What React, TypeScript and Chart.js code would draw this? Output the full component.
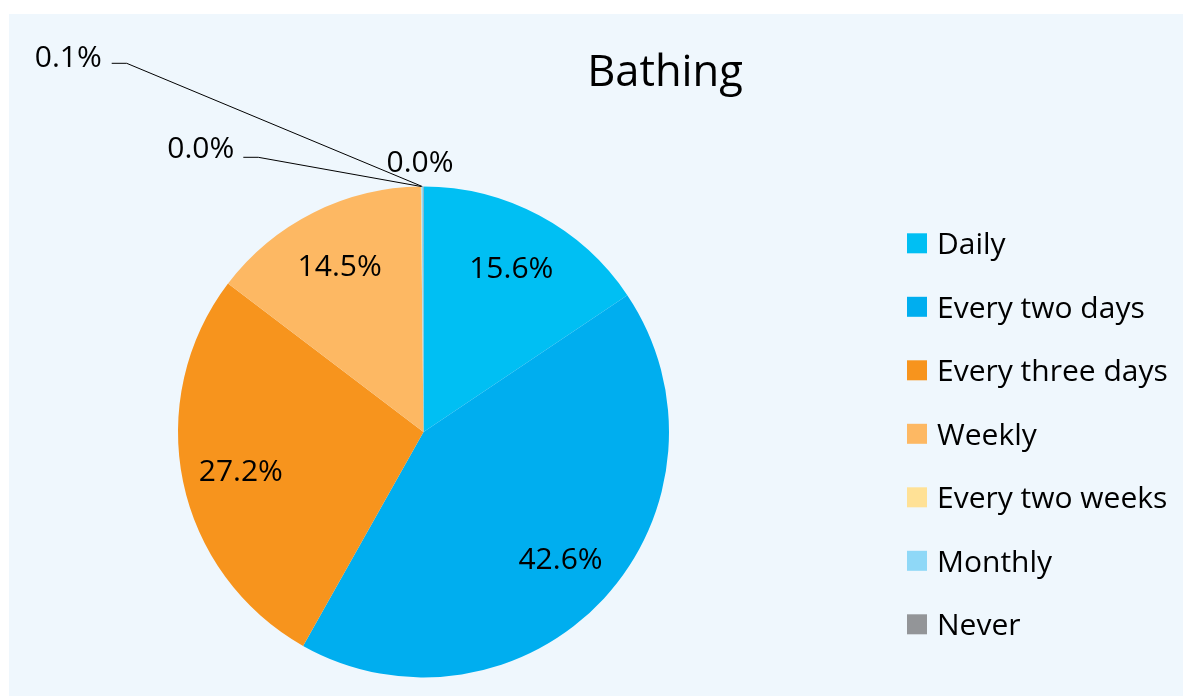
import React, { useEffect, useRef } from "react";
import { Chart, registerables } from "chart.js";

Chart.register(...registerables);

const TITLE = "Bathing";
const CATEGORIES = [
  "Daily",
  "Every two days",
  "Every three days",
  "Weekly",
  "Every two weeks",
  "Monthly",
  "Never",
];
const VALUES = [15.6, 42.6, 27.2, 14.5, 0.04, 0.1, 0.03];
const COLORS = ["#00BFF3", "#00AEEF", "#F7941D", "#FDB863", "#FFE196", "#8FD8F7", "#939598"];

const FONT = "'Open Sans', 'Noto Sans', sans-serif";
const CANVAS_W = 1174;
const CANVAS_H = 682;

// placement of labels for the tiny slices, offsets from the pie centre (px)
type OutLabel = { tx: number; ty: number; leader?: { x1: number; x2: number; y: number } };
const OUTSIDE_LABELS: Record<number, OutLabel> = {
  4: { tx: -222.7, ty: -284.5, leader: { x1: -180.2, x2: -165.2, y: -274.7 } },
  5: { tx: -355.2, ty: -376, leader: { x1: -311.8, x2: -296.8, y: -368.7 } },
  6: { tx: -3.5, ty: -271 },
};

const labelPlugin = {
  id: "customLabels",
  afterDatasetsDraw(chart: any) {
    const ctx = chart.ctx as CanvasRenderingContext2D;
    const meta = chart.getDatasetMeta(0);
    const size = 30;
    ctx.save();
    ctx.font = `${size}px ${FONT}`;
    ctx.fillStyle = "#000";
    ctx.textAlign = "center";
    ctx.textBaseline = "alphabetic";
    meta.data.forEach((arc: any, i: number) => {
      const p = arc.getProps(["x", "y", "startAngle", "endAngle", "outerRadius"], true);
      const mid = (p.startAngle + p.endAngle) / 2;
      const text = VALUES[i].toFixed(1) + "%";
      const out = OUTSIDE_LABELS[i];
      if (out) {
        const cx = p.x + out.tx;
        const cy = p.y + out.ty;
        ctx.fillText(text, cx, cy + size * 0.357);
        if (out.leader) {
          const ex = p.x + Math.cos(mid) * p.outerRadius;
          const ey = p.y + Math.sin(mid) * p.outerRadius;
          ctx.save();
          ctx.strokeStyle = "#000";
          ctx.lineWidth = 1;
          ctx.beginPath();
          ctx.moveTo(p.x + out.leader.x1, p.y + out.leader.y);
          ctx.lineTo(p.x + out.leader.x2, p.y + out.leader.y);
          ctx.lineTo(ex, ey);
          ctx.stroke();
          ctx.restore();
        }
      } else {
        const r = p.outerRadius * 0.76;
        const cx = p.x + Math.cos(mid) * r;
        const cy = p.y + Math.sin(mid) * r;
        ctx.fillText(text, cx, cy + size * 0.357);
      }
    });
    ctx.restore();
  },
  afterDraw(chart: any) {
    const ctx = chart.ctx as CanvasRenderingContext2D;
    ctx.save();
    // title
    const tsize = 43.5;
    ctx.font = `${tsize}px ${FONT}`;
    ctx.fillStyle = "#000";
    ctx.textAlign = "center";
    ctx.textBaseline = "alphabetic";
    ctx.fillText(TITLE, 656, 56 + tsize * 0.357);
    // legend
    const size = 30;
    ctx.font = `${size}px ${FONT}`;
    ctx.textAlign = "left";
    CATEGORIES.forEach((c, i) => {
      const cy = 229.3 + i * 63.5;
      ctx.fillStyle = COLORS[i];
      ctx.fillRect(898, cy - 10, 20, 20);
      ctx.fillStyle = "#000";
      ctx.fillText(c, 928, cy + size * 0.357);
    });
    ctx.restore();
  },
};

export default function App() {
  const ref = useRef<HTMLCanvasElement | null>(null);
  useEffect(() => {
    if (!ref.current) return;
    const chart = new Chart(ref.current, {
      type: "pie",
      data: {
        labels: CATEGORIES,
        datasets: [
          {
            data: VALUES,
            backgroundColor: COLORS,
            borderWidth: 0,
          },
        ],
      },
      options: {
        animation: false,
        responsive: false,
        devicePixelRatio: 1,
        layout: { padding: { left: 169, right: 514, top: 172.5, bottom: 18.5 } },
        plugins: {
          legend: { display: false },
          title: { display: false },
          tooltip: { enabled: false },
        },
      },
      plugins: [labelPlugin],
    });
    return () => chart.destroy();
  }, []);
  return (
    <div
      style={{
        position: "absolute",
        left: 9,
        top: 14,
        width: CANVAS_W,
        height: CANVAS_H,
        background: "#EFF7FD",
      }}
    >
      <canvas ref={ref} width={CANVAS_W} height={CANVAS_H} style={{ display: "block" }} />
    </div>
  );
}
